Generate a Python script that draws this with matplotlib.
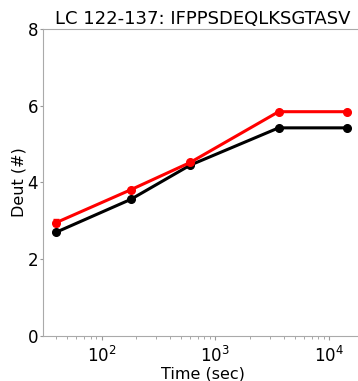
import numpy as np
import matplotlib
matplotlib.use("Agg")
import matplotlib.pyplot as plt

time_sec = [40, 180, 600, 3600, 14400]
deut_black = [2.71, 3.56, 4.45, 5.42, 5.42]
err_black = [0.03, 0.03, 0.03, 0.03, 0.03]
deut_red = [2.96, 3.81, 4.52, 5.84, 5.84]
err_red = [0.08, 0.06, 0.04, 0.03, 0.03]

title = "LC 122-137: IFPPSDEQLKSGTASV"

fig = plt.figure(figsize=(3.58, 3.81), dpi=100)
ax = fig.add_axes([0.12, 0.117, 0.895, 0.808])

ax.errorbar(time_sec, deut_black, yerr=err_black, color="k", marker="o",
            markersize=5.5, linewidth=2.2, capsize=2, elinewidth=1.5)
ax.errorbar(time_sec, deut_red, yerr=err_red, color="red", marker="o",
            markersize=5.5, linewidth=2.2, capsize=2, elinewidth=1.5)

ax.set_xscale("log")
ax.set_ylim(0, 8)
ax.set_yticks([0, 2, 4, 6, 8])
ax.set_xlim(30.5, 20000)
ax.set_xlabel("Time (sec)", fontsize=11.5, labelpad=1)
ax.set_ylabel("Deut (#)", fontsize=11.5, labelpad=1)
ax.set_title(title, fontsize=13, pad=3)
ax.tick_params(labelsize=12, color="#999999", length=3)
ax.tick_params(axis="y", pad=1, length=2.5)
ax.tick_params(which="minor", color="#999999", length=2)
for s in ax.spines.values():
    s.set_color("#aaaaaa")
ax.spines["right"].set_visible(False)

fig.savefig("out.png", dpi=100)
